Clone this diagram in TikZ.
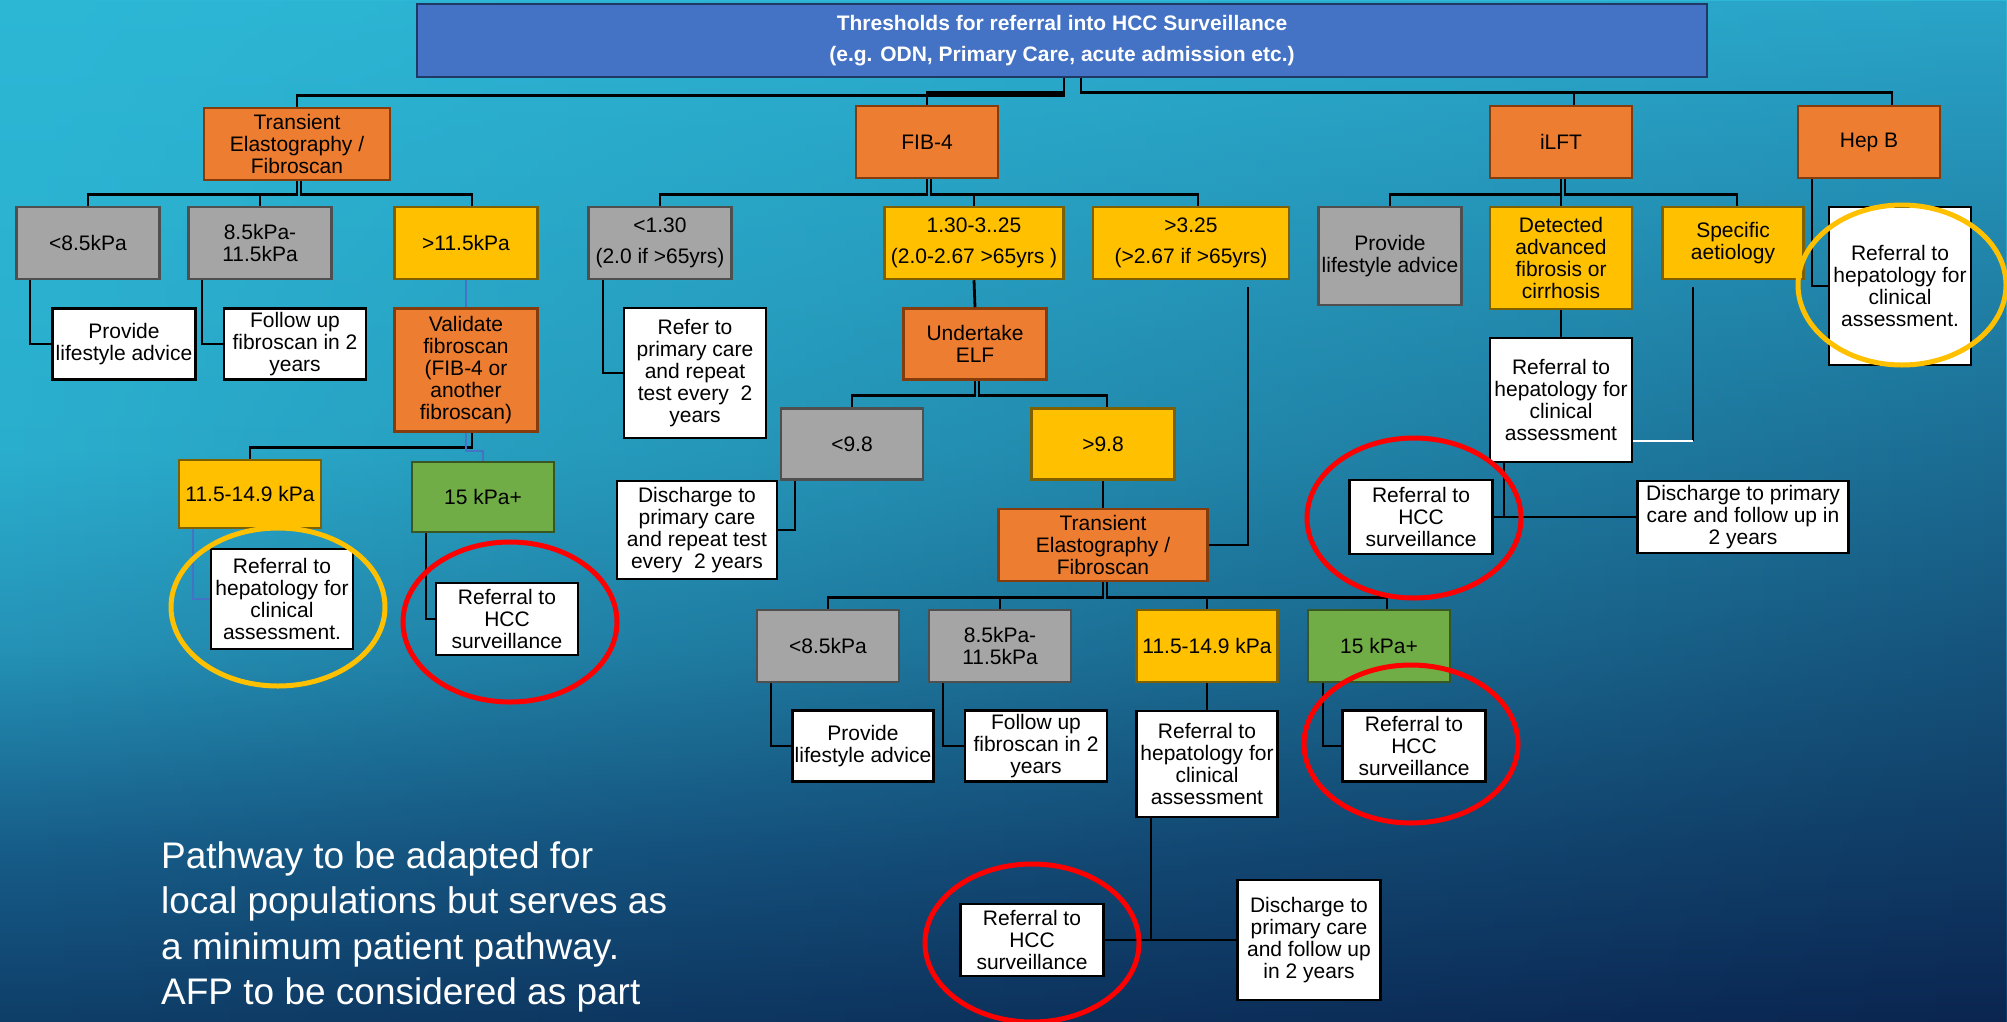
\documentclass[tikz,border=0pt]{standalone}
\usepackage{fontspec}
\setmainfont{Liberation Sans}
\usetikzlibrary{calc,fadings}
\definecolor{cTitle}{HTML}{4472C4}
\definecolor{cTitleB}{HTML}{203864}
\definecolor{cOr}{HTML}{ED7D31}
\definecolor{cOrB}{HTML}{843C0C}
\definecolor{cYe}{HTML}{FFC000}
\definecolor{cYeB}{HTML}{7F6000}
\definecolor{cGy}{HTML}{A5A5A5}
\definecolor{cGyB}{HTML}{4F4F4F}
\definecolor{cGn}{HTML}{70AD47}
\definecolor{cGnB}{HTML}{385723}
\definecolor{cRed}{HTML}{FF0000}
\definecolor{cRing}{HTML}{FFC000}
\definecolor{lA}{HTML}{2DB8D6}
\definecolor{lB}{HTML}{2BAFCE}
\definecolor{lC}{HTML}{2592B6}
\definecolor{lD}{HTML}{175D89}
\definecolor{lE}{HTML}{0F3F69}
\definecolor{rA}{HTML}{29A4C8}
\definecolor{rB}{HTML}{176290}
\definecolor{rC}{HTML}{0A2550}
\newcommand{\bxfont}{\fontsize{21pt}{22pt}\selectfont}
\tikzset{
  bx/.style={draw, line width=2.5pt, align=center, inner sep=0pt, font=\bxfont, text=black},
  obox/.style={bx, fill=cOr, draw=cOrB},
  ybox/.style={bx, fill=cYe, draw=cYeB},
  gybox/.style={bx, fill=cGy, draw=cGyB},
  gnbox/.style={bx, fill=cGn, draw=cGnB},
  wbox/.style={bx, fill=white, draw=black},
  conn/.style={draw=black, line width=2.8pt},
  bconn/.style={draw=cTitle, line width=1.8pt},
  redring/.style={draw=cRed, line width=5pt},
  yelring/.style={draw=cRing, line width=5pt},
}
\begin{document}
\begin{tikzpicture}[x=1pt,y=-1pt]
\useasboundingbox (0,0) rectangle (2007,1021);
% background
\fill[lA] (0,0) rectangle (2007,1021);
\shade[top color=lA, bottom color=lB] (0,0) rectangle (2007,451);
\shade[top color=lB, bottom color=lC] (0,450) rectangle (2007,651);
\shade[top color=lC, bottom color=lD] (0,650) rectangle (2007,851);
\shade[top color=lD, bottom color=lE] (0,850) rectangle (2007,1021);
\shade[top color=rA, middle color=rB, bottom color=rC, path fading=west] (0,0) rectangle (2007,1021);

% title
\node[bx, fill=cTitle, draw=cTitleB, text=white, font=\bfseries\bxfont, minimum width=1290, minimum height=73] (title) at (1062,40.5)
  {Thresholds for referral into HCC Surveillance\\[9pt](e.g. ODN, Primary Care, acute admission etc.)};

% row 1
\node[obox, minimum width=186, minimum height=72] (te1) at (297,144) {Transient\\Elastography /\\Fibroscan};
\node[obox, minimum width=142, minimum height=72] (fib4) at (927,142) {FIB-4};
\node[obox, minimum width=142, minimum height=72] (ilft) at (1561,142) {iLFT};
\node[obox, minimum width=142, minimum height=72] (hepb) at (1869,142) {Hep B};

% row 2
\node[gybox, minimum width=143, minimum height=72] (lt85a) at (88,243) {<8.5kPa};
\node[gybox, minimum width=143, minimum height=72] (m85a) at (260,243) {8.5kPa-\\11.5kPa};
\node[ybox, minimum width=143, minimum height=72] (gt115) at (466,243) {>11.5kPa};
\node[gybox, minimum width=143, minimum height=72] (lt130) at (660,243) {<1.30\\[9pt](2.0 if >65yrs)};
\node[ybox, minimum width=179, minimum height=72] (mid130) at (974,243) {1.30-3..25\\[9pt](2.0-2.67 >65yrs )};
\node[ybox, minimum width=196, minimum height=72] (gt325) at (1191,243) {>3.25\\[9pt](>2.67 if >65yrs)};
\node[gybox, minimum width=143, minimum height=98] (provA) at (1390,256) {Provide\\lifestyle advice};
\node[ybox, minimum width=142, minimum height=102] (detected) at (1561,258) {Detected\\advanced\\fibrosis or\\cirrhosis};
\node[ybox, minimum width=141, minimum height=72] (specific) at (1733,243) {Specific\\aetiology};
\node[wbox, minimum width=142, minimum height=158] (refHepB) at (1900,286) {Referral to\\hepatology for\\clinical\\assessment.};

% row 3
\node[wbox, minimum width=143, minimum height=71] (provB) at (124,344) {Provide\\lifestyle advice};
\node[wbox, minimum width=142, minimum height=71] (fu1) at (295,344) {Follow up\\fibroscan in 2\\years};
\node[obox, minimum width=143, minimum height=123] (validate) at (466,370) {Validate\\fibroscan\\(FIB-4 or\\another\\fibroscan)};
\node[wbox, minimum width=142, minimum height=130] (refpc) at (695,373) {Refer to\\primary care\\and repeat\\test every\ \ 2\\years};
\node[obox, minimum width=143, minimum height=71] (elf) at (975,344) {Undertake\\ELF};
\node[wbox, minimum width=142, minimum height=124] (refHepI) at (1561,400) {Referral to\\hepatology for\\clinical\\assessment};

% row 4
\node[ybox, minimum width=142, minimum height=68] (k1149a) at (250,494) {11.5-14.9 kPa};
\node[gnbox, minimum width=142, minimum height=70] (k15a) at (483,497) {15 kPa+};
\node[gybox, minimum width=142, minimum height=71] (lt98) at (852,444) {<9.8};
\node[ybox, minimum width=143, minimum height=71] (gt98) at (1103,444) {>9.8};
\node[wbox, minimum width=160, minimum height=98] (dis1) at (697,530) {Discharge to\\primary care\\and repeat test\\every\ \ 2 years};
\node[obox, minimum width=209, minimum height=72] (te2) at (1103,545) {Transient\\Elastography /\\Fibroscan};
\node[wbox, minimum width=143, minimum height=74] (hccI) at (1421,517) {Referral to\\HCC\\surveillance};
\node[wbox, minimum width=211, minimum height=72] (disI) at (1743,517) {Discharge to primary\\care and follow up in\\2 years};

% row 5
\node[wbox, minimum width=142, minimum height=100] (refHepA) at (282,599) {Referral to\\hepatology for\\clinical\\assessment.};
\node[wbox, minimum width=142, minimum height=72] (hccA) at (507,619) {Referral to\\HCC\\surveillance};

% row 6
\node[gybox, minimum width=142, minimum height=72] (lt85b) at (828,646) {<8.5kPa};
\node[gybox, minimum width=142, minimum height=72] (m85b) at (1000,646) {8.5kPa-\\11.5kPa};
\node[ybox, minimum width=141, minimum height=72] (k1149b) at (1207,646) {11.5-14.9 kPa};
\node[gnbox, minimum width=142, minimum height=72] (k15b) at (1379,646) {15 kPa+};

% row 7
\node[wbox, minimum width=141, minimum height=71] (provC) at (863,746) {Provide\\lifestyle advice};
\node[wbox, minimum width=142, minimum height=71] (fu2) at (1036,746) {Follow up\\fibroscan in 2\\years};
\node[wbox, minimum width=141, minimum height=106] (refHepC) at (1207,764) {Referral to\\hepatology for\\clinical\\assessment};
\node[wbox, minimum width=143, minimum height=71] (hccC) at (1414,746) {Referral to\\HCC\\surveillance};

% row 8
\node[wbox, minimum width=143, minimum height=72] (hccD) at (1032,940) {Referral to\\HCC\\surveillance};
\node[wbox, minimum width=143, minimum height=120] (disD) at (1309,940) {Discharge to\\primary care\\and follow up\\in 2 years};

% connectors: title
\draw[conn] ([xshift=2]title.south) -- ++(0,17) -| (te1.north);
\draw[conn] ([xshift=2]title.south) -- ++(0,14) -| (fib4.north);
\draw[conn] ([xshift=19]title.south) -- ++(0,14) -| ([xshift=13]ilft.north);
\draw[conn] ([xshift=19]title.south) -- ++(0,14) -| ([xshift=23]hepb.north);

% TE1 branch
\draw[conn] (te1.south) -- ++(0,13) -| (lt85a.north);
\draw[conn] (te1.south) -- ++(0,13) -| (m85a.north);
\draw[conn] ([xshift=4]te1.south) -- ++(0,13) -| ([xshift=6]gt115.north);
\draw[conn] ([xshift=-58]lt85a.south) |- (provB.west);
\draw[conn] ([xshift=-58]m85a.south) |- (fu1.west);
\draw[bconn] (gt115.south) -- (validate.north);
\draw[conn] ([xshift=6]validate.south) -- ++(0,15) -| (k1149a.north);
\draw[bconn] (validate.south) -- ++(0,18) -| (k15a.north);
\draw[bconn] ([xshift=-57]k1149a.south) |- (refHepA.west);
\draw[conn] ([xshift=-57]k15a.south) |- (hccA.west);

% FIB-4 branch
\draw[conn] (fib4.south) -- ++(0,15) -| (lt130.north);
\draw[conn] ([xshift=4]fib4.south) -- ++(0,15) -| (mid130.north);
\draw[conn] ([xshift=4]fib4.south) -- ++(0,15) -| ([xshift=7]gt325.north);
\draw[conn] ([xshift=-57]lt130.south) |- (refpc.west);
\draw[conn] (mid130.south) -- (elf.north);
\draw[conn] (elf.south) -- ++(0,15) -| (lt98.north);
\draw[conn] ([xshift=4]elf.south) -- ++(0,15) -| ([xshift=4]gt98.north);
\draw[conn] ([xshift=-57]lt98.south) |- (dis1.east);
\draw[conn] (gt98.south) -- (te2.north);
\draw[conn] ([xshift=57,yshift=-7]gt325.south) |- (te2.east);
\draw[conn] (te2.south) -- ++(0,15) -| (lt85b.north);
\draw[conn] (te2.south) -- ++(0,15) -| (m85b.north);
\draw[conn] ([xshift=4]te2.south) -- ++(0,15) -| (k1149b.north);
\draw[conn] ([xshift=4]te2.south) -- ++(0,15) -| ([xshift=8]k15b.north);
\draw[conn] ([xshift=-57]lt85b.south) |- (provC.west);
\draw[conn] ([xshift=-57]m85b.south) |- (fu2.west);
\draw[conn] (k1149b.south) -- (refHepC.north);
\draw[conn] ([xshift=-56]k15b.south) |- (hccC.west);
\draw[conn] ([xshift=-56]refHepC.south) |- (hccD.east);
\draw[conn] ([xshift=-56]refHepC.south) |- (disD.west);

% iLFT branch
\draw[conn] (ilft.south) -- ++(0,15) -| (provA.north);
\draw[conn] ([xshift=4]ilft.south) -- ++(0,15) -| ([xshift=4]specific.north);
\draw[conn] (ilft.south) -- (detected.north);
\draw[conn] (detected.south) -- (refHepI.north);
\coordinate (sp1) at ([xshift=-40,yshift=-7]specific.south);
\coordinate (spE) at ($(refHepI.east)+(0,41)$);
\draw[conn] (sp1) -- (sp1 |- spE);
\draw[conn, draw=white] (sp1 |- spE) -- (spE);
\draw[conn] ([xshift=-57]refHepI.south) |- (hccI.east);
\draw[conn] ([xshift=-57]refHepI.south) |- (disI.west);

% Hep B branch
\draw[conn] ([xshift=-57]hepb.south) |- (refHepB.west);

% rings
\draw[yelring] (278,607) ellipse [x radius=107pt, y radius=79pt];
\draw[redring] (510,622) ellipse [x radius=107pt, y radius=80pt];
\draw[redring] (1414,518) ellipse [x radius=107pt, y radius=80pt];
\draw[yelring] (1902,285) ellipse [x radius=104pt, y radius=80pt];
\draw[redring] (1411,744) ellipse [x radius=107pt, y radius=79pt];
\draw[redring] (1032,943) ellipse [x radius=107pt, y radius=79pt];

% note
\node[anchor=north west, inner sep=0pt, align=left, text=white, font=\fontsize{37pt}{45.5pt}\selectfont] (note) at (161,841)
  {Pathway to be adapted for\\local populations but serves as\\a minimum patient pathway.\\AFP to be considered as part};
\end{tikzpicture}
\end{document}
